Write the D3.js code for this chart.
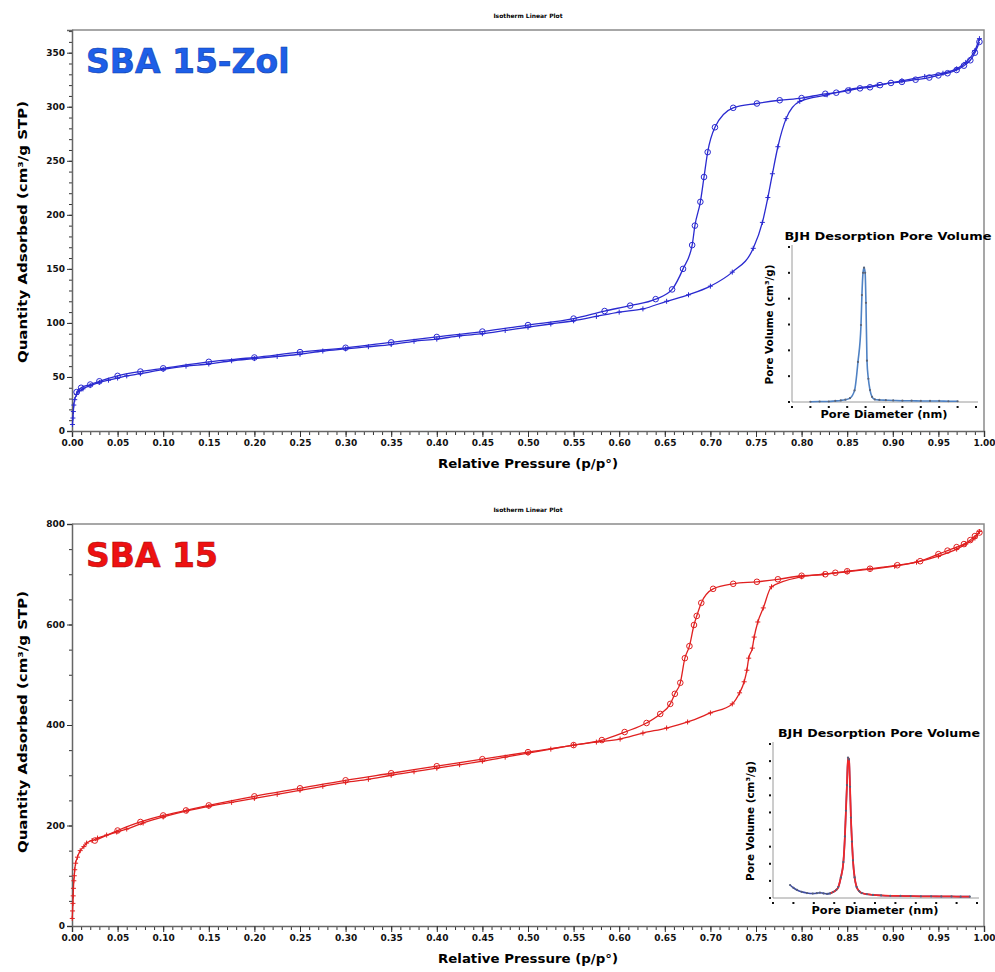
<!DOCTYPE html>
<html>
<head>
<meta charset="utf-8">
<script src="https://cdn.jsdelivr.net/npm/d3@7"></script>
<style>
  body { margin: 0; background: #fff; }
  text { font-family: "DejaVu Sans", Verdana, sans-serif; }
</style>
</head>
<body>
<svg id="chart" width="995" height="972"></svg>
<script>
// ---- tick labels ----
const pressureTicks = [0, 0.05, 0.10, 0.15, 0.20, 0.25, 0.30, 0.35, 0.40, 0.45, 0.50,
  0.55, 0.60, 0.65, 0.70, 0.75, 0.80, 0.85, 0.90, 0.95, 1.00];
const zolTicks = [0, 50, 100, 150, 200, 250, 300, 350];
const sbaTicks = [0, 200, 400, 600, 800];

// ---- SBA 15-Zol isotherm (cm3/g STP) ----
const zolAdsP = [0.0005, 0.001, 0.0015, 0.002, 0.003, 0.005, 0.008, 0.012, 0.02, 0.03, 0.04, 0.05,
  0.06, 0.075, 0.1, 0.125, 0.15, 0.175, 0.2, 0.225, 0.25, 0.275, 0.3, 0.325, 0.35, 0.375, 0.4,
  0.425, 0.45, 0.475, 0.5, 0.525, 0.55, 0.575, 0.6, 0.626, 0.652, 0.676, 0.70, 0.724, 0.747,
  0.757, 0.763, 0.768, 0.774, 0.783, 0.798, 0.828, 0.853, 0.883, 0.91, 0.935, 0.955, 0.97,
  0.98, 0.99, 0.995];
const zolAdsV = [6, 12, 18, 24, 29, 34, 37, 39, 42, 45, 47, 49, 51, 53, 57, 60, 62, 65, 67, 69,
  71, 74, 76, 78, 80, 83, 85, 88, 90, 93, 96, 99, 102, 106, 110, 113, 120, 126, 134, 147, 169,
  193, 216, 238, 263, 289, 305, 311, 316, 320, 324, 328, 331, 335, 341, 352, 363];
const zolDesP = [0.995, 0.99, 0.985, 0.978, 0.97, 0.96, 0.95, 0.94, 0.925, 0.91, 0.898, 0.886,
  0.875, 0.864, 0.851, 0.838, 0.826, 0.80, 0.776, 0.751, 0.725, 0.705, 0.697, 0.693, 0.689,
  0.683, 0.680, 0.670, 0.658, 0.64, 0.612, 0.584, 0.55, 0.5, 0.45, 0.4, 0.35, 0.3, 0.25, 0.2,
  0.15, 0.1, 0.075, 0.05, 0.03, 0.02, 0.01, 0.005];
const zolDesV = [360, 350, 343, 338, 334, 331, 329, 327, 325, 323, 322, 320, 318, 317, 315, 313,
  312, 308, 306, 303, 299, 281, 258, 235, 212, 190, 172, 150, 131, 122, 116, 111, 104, 98, 92,
  87, 82, 77, 73, 68, 64, 58, 55, 51, 46, 43, 40, 36];

// ---- SBA 15 isotherm ----
const sbaAdsP = [0.0003, 0.0006, 0.001, 0.0013, 0.0016, 0.002, 0.0025, 0.003, 0.004, 0.006,
  0.009, 0.013, 0.016, 0.022, 0.028, 0.038, 0.049, 0.06, 0.078, 0.1, 0.126, 0.15, 0.175, 0.2,
  0.225, 0.25, 0.275, 0.3, 0.325, 0.35, 0.375, 0.4, 0.425, 0.45, 0.475, 0.5, 0.525, 0.55, 0.575,
  0.601, 0.626, 0.652, 0.675, 0.70, 0.724, 0.732, 0.737, 0.74, 0.742, 0.746, 0.748, 0.752,
  0.758, 0.767, 0.80, 0.824, 0.85, 0.875, 0.902, 0.926, 0.95, 0.97, 0.98, 0.99, 0.995];
const sbaAdsV = [15, 30, 45, 60, 75, 90, 100, 112, 125, 137, 150, 158, 165, 170, 175, 181, 187,
  193, 205, 217, 229, 238, 246, 254, 262, 270, 278, 286, 292, 300, 307, 314, 321, 328, 336, 344,
  352, 360, 366, 372, 384, 394, 406, 424, 442, 464, 486, 509, 533, 553, 575, 605, 633, 675, 695,
  700, 705, 710, 716, 724, 736, 750, 760, 772, 785];
const sbaDesP = [0.995, 0.99, 0.985, 0.978, 0.97, 0.96, 0.95, 0.93, 0.905, 0.875, 0.85, 0.837,
  0.826, 0.80, 0.774, 0.751, 0.725, 0.703, 0.69, 0.685, 0.682, 0.677, 0.672, 0.667, 0.661, 0.656,
  0.645, 0.63, 0.606, 0.581, 0.55, 0.5, 0.45, 0.4, 0.35, 0.3, 0.25, 0.2, 0.15, 0.125, 0.1, 0.075,
  0.05, 0.025];
const sbaDesV = [783, 776, 768, 760, 754, 747, 740, 726, 718, 711, 706, 703, 700, 697, 690, 685,
  681, 671, 643, 617, 599, 557, 533, 484, 462, 442, 422, 404, 386, 370, 360, 346, 332, 318, 304,
  290, 274, 258, 240, 230, 220, 207, 190, 170];

// ---- BJH desorption pore volume insets ----
const zolPoreD = [2.0, 3.0, 4.0, 4.7, 5.3, 5.8, 6.3, 6.8, 7.17, 7.5, 7.6, 7.72, 7.83, 7.95, 8.04,
  8.15, 8.3, 8.48, 8.7, 9.0, 9.5, 10.2, 11.0, 12.0, 13.0, 14.0, 15.0, 16.0, 17.0, 18.0];
const zolPoreV = [0.001, 0.002, 0.002, 0.004, 0.006, 0.009, 0.015, 0.045, 0.155, 0.298, 0.414,
  0.50, 0.52, 0.50, 0.384, 0.16, 0.09, 0.046, 0.02, 0.01, 0.008, 0.007, 0.006, 0.005, 0.005,
  0.004, 0.004, 0.004, 0.003, 0.003];
const sbaPoreD = [1.67, 2.0, 2.35, 2.8, 3.33, 3.9, 4.3, 4.6, 4.95, 5.3, 5.6, 5.9, 6.2, 6.4, 6.65,
  6.9, 7.05, 7.15, 7.25, 7.35, 7.45, 7.55, 7.64, 7.74, 7.84, 8.0, 8.2, 8.45, 8.7, 9.2, 9.8, 10.6,
  11.5, 12.5, 13.5, 14.5, 15.5, 16.5, 17.5, 18.4, 19.3];
const sbaPoreV = [0.076, 0.06, 0.047, 0.036, 0.029, 0.026, 0.028, 0.031, 0.027, 0.024, 0.027,
  0.035, 0.047, 0.064, 0.12, 0.21, 0.36, 0.51, 0.66, 0.82, 0.81, 0.65, 0.47, 0.33, 0.22, 0.12,
  0.064, 0.04, 0.029, 0.022, 0.018, 0.015, 0.013, 0.012, 0.011, 0.01, 0.01, 0.009, 0.009, 0.008,
  0.008];

let svg = d3.select("#chart");

function isotherm(opts) {
  let g = svg.append("g");
  let left = 72, right = 984;

  let fnX = d3.scaleLinear().domain([0, 1]).range([left, right]);
  let fnY = d3.scaleLinear().domain([0, opts.yMax]).range([opts.bottom, opts.top]);

  // frame (top + right)
  g.append("path")
    .attr("d", `M${left},${opts.top}H${right}V${opts.bottom}`)
    .attr("fill", "none")
    .attr("stroke", "#8a8a8a")
    .attr("stroke-width", 1.5);

  // x axis: minor then major
  g.append("g")
    .attr("transform", `translate(0,${opts.bottom})`)
    .call(d3.axisBottom(fnX).tickValues(d3.range(0, 101).map(i => i / 100)).tickSize(4).tickFormat(""))
    .call(a => a.select(".domain").remove());
  let ax = g.append("g")
    .attr("transform", `translate(0,${opts.bottom})`)
    .call(d3.axisBottom(fnX).tickValues(pressureTicks).tickSize(6).tickPadding(3).tickFormat(d3.format(".2f")));
  ax.select(".domain").attr("stroke", "#666").attr("stroke-width", 1.5);

  // y axis
  g.append("g")
    .attr("transform", `translate(${left},0)`)
    .call(d3.axisLeft(fnY).tickValues(d3.range(0, opts.yMax + 0.1, opts.minor)).tickSize(3).tickFormat(""))
    .call(a => a.select(".domain").remove());
  let ay = g.append("g")
    .attr("transform", `translate(${left},0)`)
    .call(d3.axisLeft(fnY).tickValues(opts.ticks).tickSize(5).tickPadding(2));
  ay.select(".domain").attr("stroke", "#666").attr("stroke-width", 1.5);

  g.selectAll(".tick line").attr("stroke", "#333");
  g.selectAll(".tick text")
    .attr("font-family", "DejaVu Sans")
    .attr("font-size", 9)
    .attr("font-weight", "bold")
    .attr("fill", "#111");

  // small plot header
  g.append("text")
    .attr("x", 528).attr("y", opts.top - 12)
    .attr("text-anchor", "middle")
    .attr("font-size", 6).attr("font-weight", "bold")
    .text("Isotherm Linear Plot");

  // axis titles
  g.append("text")
    .attr("x", 528).attr("y", opts.bottom + 37)
    .attr("text-anchor", "middle")
    .attr("font-size", 12.5).attr("font-weight", "bold")
    .attr("textLength", 180).attr("lengthAdjust", "spacingAndGlyphs")
    .text("Relative Pressure (p/p°)");
  g.append("text")
    .attr("transform", `translate(27,${opts.labelY}) rotate(-90)`)
    .attr("text-anchor", "middle")
    .attr("font-size", 13).attr("font-weight", "bold")
    .attr("textLength", 262).attr("lengthAdjust", "spacingAndGlyphs")
    .text("Quantity Adsorbed (cm³/g STP)");

  // sample name
  g.append("text")
    .attr("x", 86).attr("y", opts.top + 43)
    .attr("font-size", 33).attr("font-weight", "bold")
    .attr("fill", opts.titleColor)
    .attr("stroke", opts.titleStroke).attr("stroke-width", 0.6)
    .text(opts.name);

  // smooth branches, drawn in order of rising pressure
  let line = d3.line()
    .x(d => fnX(d[0]))
    .y(d => fnY(d[1]))
    .curve(d3.curveMonotoneX);
  let ads = d3.zip(opts.adsP, opts.adsV);
  let des = d3.zip(opts.desP, opts.desV);

  [ads, des].forEach(pts => {
    g.append("path")
      .datum(pts.slice().sort((a, b) => a[0] - b[0]))
      .attr("d", line)
      .attr("fill", "none")
      .attr("stroke", opts.color)
      .attr("stroke-width", 1.3);
  });

  // desorption markers: open circles
  g.selectAll(".des")
    .data(des)
    .enter()
    .append("circle")
    .attr("cx", d => fnX(d[0]))
    .attr("cy", d => fnY(d[1]))
    .attr("r", 2.8)
    .attr("fill", "none")
    .attr("stroke", opts.color)
    .attr("stroke-width", 1);

  // adsorption markers: small plus
  g.selectAll(".ads")
    .data(ads)
    .enter()
    .append("path")
    .attr("d", d => `M${fnX(d[0]) - 2.5},${fnY(d[1])}h5M${fnX(d[0])},${fnY(d[1]) - 2.5}v5`)
    .attr("stroke", opts.color)
    .attr("stroke-width", 1);
}

function inset(opts) {
  let g = svg.append("g");
  let fnX = d3.scaleLinear().domain([0, 20]).range([opts.x0, opts.x1]);
  let fnY = d3.scaleLinear().domain([0, opts.yMax]).range([opts.y0, opts.y1]);

  g.append("path")
    .attr("d", `M${opts.x0},${opts.y1 - 2}V${opts.y0}H${opts.x1 + 2}`)
    .attr("fill", "none")
    .attr("stroke", "#9a9a9a")
    .attr("stroke-width", 1);

  // tiny tick labels (dots)
  g.selectAll(".yd")
    .data(d3.range(0, opts.yMax + 1e-9, 0.1))
    .enter()
    .append("rect")
    .attr("x", opts.x0 - 4).attr("y", d => fnY(d) - 1)
    .attr("width", 2).attr("height", 2)
    .attr("fill", "#111");
  g.selectAll(".xd")
    .data(d3.range(0, 21, 2))
    .enter()
    .append("rect")
    .attr("x", d => fnX(d) - 1).attr("y", opts.y0 + 4)
    .attr("width", 2).attr("height", 2)
    .attr("fill", "#111");

  g.append("text")
    .attr("x", (opts.x0 + opts.x1) / 2 + 4).attr("y", opts.y1 - 7)
    .attr("text-anchor", "middle")
    .attr("font-size", 11).attr("font-weight", "bold")
    .attr("textLength", opts.titleLen).attr("lengthAdjust", "spacingAndGlyphs")
    .text("BJH Desorption Pore Volume");
  g.append("text")
    .attr("x", (opts.x0 + opts.x1) / 2).attr("y", opts.y0 + 16)
    .attr("text-anchor", "middle")
    .attr("font-size", 10).attr("font-weight", "bold")
    .attr("textLength", 127).attr("lengthAdjust", "spacingAndGlyphs")
    .text("Pore Diameter (nm)");
  g.append("text")
    .attr("transform", `translate(${opts.x0 - 19},${(opts.y0 + opts.y1) / 2}) rotate(-90)`)
    .attr("text-anchor", "middle")
    .attr("font-size", 10).attr("font-weight", "bold")
    .attr("textLength", 120).attr("lengthAdjust", "spacingAndGlyphs")
    .text("Pore Volume (cm³/g)");

  let line = d3.line()
    .x(d => fnX(d[0]))
    .y(d => fnY(d[1]))
    .curve(d3.curveMonotoneX);
  let pts = d3.zip(opts.d, opts.v);

  g.append("path")
    .datum(pts)
    .attr("d", line)
    .attr("fill", "none")
    .attr("stroke", opts.color)
    .attr("stroke-width", 1.6);

  if (opts.overlay) {
    g.append("path")
      .datum(pts.filter(d => d[0] >= opts.overlayFrom))
      .attr("d", line)
      .attr("fill", "none")
      .attr("stroke", opts.overlay)
      .attr("stroke-width", 1.8);
  }

  g.selectAll(".pt")
    .data(pts)
    .enter()
    .append("circle")
    .attr("cx", d => fnX(d[0]))
    .attr("cy", d => fnY(d[1]))
    .attr("r", 1.1)
    .attr("fill", opts.markColor);
}

isotherm({
  name: "SBA 15-Zol", titleColor: "#1d5fe8", titleStroke: "#0d3aa8",
  color: "#2a2ad0", top: 30, bottom: 431, yMax: 371, ticks: zolTicks, minor: 10, labelY: 232,
  adsP: zolAdsP, adsV: zolAdsV, desP: zolDesP, desV: zolDesV
});
inset({
  x0: 792, x1: 976, y0: 402, y1: 247, yMax: 0.6, titleLen: 207,
  d: zolPoreD, v: zolPoreV, color: "#4f82c4", markColor: "#5a6478"
});

isotherm({
  name: "SBA 15", titleColor: "#ee1111", titleStroke: "#a80808",
  color: "#e02020", top: 524, bottom: 926, yMax: 800, ticks: sbaTicks, minor: 50, labelY: 722,
  adsP: sbaAdsP, adsV: sbaAdsV, desP: sbaDesP, desV: sbaDesV
});
inset({
  x0: 773, x1: 977, y0: 898, y1: 744, yMax: 0.9, titleLen: 202,
  d: sbaPoreD, v: sbaPoreV, color: "#3d4aa6", overlay: "#f0282a", overlayFrom: 5.6,
  markColor: "#55607a"
});
</script>
</body>
</html>
